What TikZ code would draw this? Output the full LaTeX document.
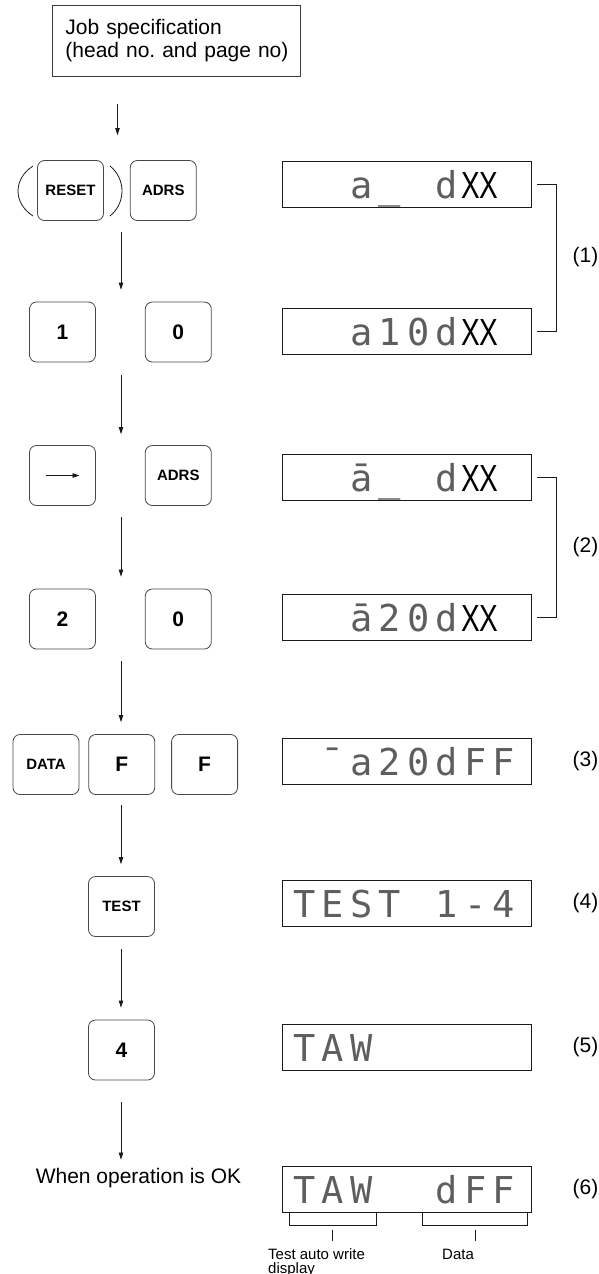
\documentclass[tikz,border=0pt]{standalone}
\usepackage{fontspec}
\usepackage{graphicx}
\setmainfont{Liberation Sans}
\newfontfamily\lcdfont{DejaVu Sans Mono}
\usetikzlibrary{arrows.meta,positioning,calc}
\definecolor{Ink}{HTML}{1A1A1A}
\definecolor{Dots}{HTML}{5E5E5E}
\newcommand\lcdcell[1]{\makebox[28.5pt]{#1}}
\newcommand\lcd[1]{{\lcdfont\fontsize{37pt}{37pt}\selectfont\color{Dots}\foreach \lcdch in {#1}{\lcdcell{\lcdch}}}}
\newcommand\lcdxx{{\fontsize{28pt}{28pt}\selectfont\scalebox{1}[1.35]{XX}}}
\frenchspacing
\tikzset{
 keycap/.style={draw=Ink!80,line width=0.8pt,rounded corners=7pt,minimum width=66pt,minimum height=60pt,inner sep=0pt,font=\fontsize{15pt}{15pt}\selectfont\bfseries},
 bigkey/.style={keycap,font=\fontsize{21pt}{21pt}\selectfont\bfseries},
 lcdbox/.style={draw=Ink,line width=0.9pt,minimum width=249pt,text width=233pt,align=left,inner xsep=8pt,inner ysep=0pt,text height=37pt,text depth=9pt},
 lab/.style={anchor=west,inner sep=0pt,font=\fontsize{21pt}{21pt}\selectfont},
 note/.style={inner sep=0pt,font=\fontsize{15pt}{14pt}\selectfont},
 arr/.style={-{Triangle[length=7pt,width=4.5pt]},line width=0.8pt,draw=Ink},
 brk/.style={line width=0.8pt,draw=Ink}
}
\begin{document}
\begin{tikzpicture}[x=1pt,y=-1pt]
\useasboundingbox (0,0) rectangle (598,1274);
\node[draw=Ink!85,line width=0.9pt,anchor=north west,minimum width=248pt,minimum height=71pt,text width=222pt,align=left,inner xsep=13pt,font=\fontsize{21pt}{23pt}\selectfont] (job) at (52,5) {\mbox{Job specification}\\\mbox{(head no. and page no)}};
% key rows
\node[keycap] (reset) at (70.5,190.5) {RESET};
\node[keycap,right=26pt of reset] (adrsA) {ADRS};
\draw[brk] (33,166) .. controls (13,179) and (13,203) .. (33,216);
\draw[brk] (110,166) .. controls (126,179) and (126,203) .. (110,216);
\node[bigkey] (one) at (62.5,332) {1};
\node[bigkey,right=49pt of one] (zeroA) {0};
\node[keycap] (cursor) at (62.5,475.5) {};
\node[keycap,right=49pt of cursor] (adrsB) {ADRS};
\draw[arr] ([xshift=-17pt]cursor.center) -- ([xshift=17pt]cursor.center);
\node[bigkey] (two) at (62.5,619) {2};
\node[bigkey,right=49pt of two] (zeroB) {0};
\node[keycap] (data) at (46,764.5) {DATA};
\node[bigkey,right=9pt of data] (fa) {F};
\node[bigkey,right=16pt of fa] (fb) {F};
\node[keycap] (test) at (121.5,906.5) {TEST};
\node[bigkey] (four) at (121.5,1050) {4};
\node[inner sep=0pt,anchor=base,font=\fontsize{21pt}{21pt}\selectfont] (ok) at (138.5,1183) {When operation is OK};
% displays
\node[lcdbox] (d1) at (406.5,184) {\lcd{{},{},a,\_,{},d}\lcdxx};
\node[lcdbox] (d2) at (406.5,331) {\lcd{{},{},a,1,0,d}\lcdxx};
\node[lcdbox] (d3) at (406.5,477.5) {\lcd{{},{},ā,\_,{},d}\lcdxx};
\node[lcdbox] (d4) at (406.5,617.5) {\lcd{{},{},ā,2,0,d}\lcdxx};
\node[lcdbox] (d5) at (406.5,761) {\lcd{{},¯,a,2,0,d,F,F}};
\node[lcdbox] (d6) at (406.5,903.5) {\lcd{T,E,S,T,{},1,-,4}};
\node[lcdbox] (d7) at (406.5,1047.5) {\lcd{T,A,W}};
\node[lcdbox] (d8) at (406.5,1189.5) {\lcd{T,A,W,{},{},d,F,F}};
% step brackets and numbers
\draw[brk] ([xshift=6pt]d1.east) -- ([xshift=25pt]d1.east) |- ([xshift=6pt]d2.east);
\node[lab] at ($(d1.east)!.5!(d2.east)+(41,0)$) {(1)};
\draw[brk] ([xshift=6pt]d3.east) -- ([xshift=25pt]d3.east) |- ([xshift=6pt]d4.east);
\node[lab] at ($(d3.east)!.5!(d4.east)+(41,0)$) {(2)};
\foreach \d/\n in {d5/3,d6/4,d7/5,d8/6} \node[lab] at ($(\d.east)+(41,0)$) {(\n)};
% parts of the last display
\draw[brk] ($(d8.south west)+(8,0)$) -- ++(0,12) -| ($(d8.south west)+(95,0)$);
\draw[brk] ($(d8.south west)+(141,0)$) -- ++(0,12) -| ($(d8.south west)+(246,0)$);
\draw[brk] ($(d8.south west)+(51,17)$) -- ++(0,11);
\draw[brk] ($(d8.south west)+(194,17)$) -- ++(0,11);
\node[note,anchor=north west,align=left] (taw) at (268,1248) {Test auto write\\display};
\node[note,anchor=base west] (dat) at (442,1259) {Data};
% flow
\coordinate (cA) at (117.5,0);
\coordinate (cB) at (121,0);
\foreach \p/\q/\col/\sa/\sb in {job/reset/cA/27/25,reset/one/cB/11/12,one/cursor/cB/13/11,cursor/two/cB/11/12,two/fa/cB/12/12,fa/test/cB/10/12,test/four/cB/12/12,four/ok/cB/22/8}
 \draw[arr,shorten <=\sa pt,shorten >=\sb pt] (\p.south -| \col) -- (\q.north -| \col);
\end{tikzpicture}
\end{document}
